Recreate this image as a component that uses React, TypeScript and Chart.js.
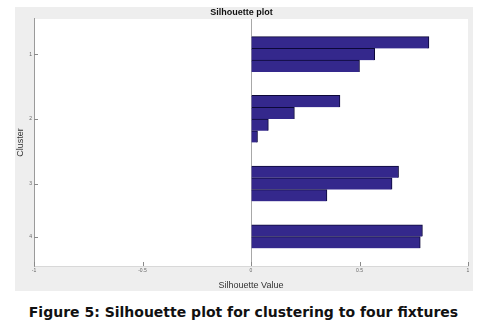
import React, { useEffect, useRef } from "react";
import { Chart, registerables } from "chart.js";

Chart.register(...registerables);

// ---- data ----
const clusterLabels = ["1", "2", "3", "4"];
const cluster1 = [0.82, 0.57, 0.5];
const cluster2 = [0.41, 0.2, 0.08, 0.03];
const cluster3 = [0.68, 0.65, 0.35];
const cluster4 = [0.79, 0.78];
const clusters = [cluster1, cluster2, cluster3, cluster4];
const xTickValues = [-1, -0.5, 0, 0.5, 1];
const xTickLabels = ["-1", "-0.5", "0", "0.5", "1"];
const GAP = 2; // empty slots between clusters (as in MATLAB silhouette)

// build bar slots
const points: { x: number; y: number }[] = [];
const clusterCenters: number[] = [];
{
  let slot = 0;
  clusters.forEach((vals) => {
    const start = slot;
    vals.forEach((v) => {
      points.push({ x: v, y: slot });
      slot += 1;
    });
    clusterCenters.push((start + slot - 1) / 2);
    slot += GAP;
  });
}
const lastSlot = points[points.length - 1].y;

const plotBg = {
  id: "plotBg",
  beforeDraw(chart: any) {
    const { ctx, chartArea } = chart;
    ctx.save();
    ctx.fillStyle = "#ffffff";
    ctx.fillRect(chartArea.left, chartArea.top, chartArea.right - chartArea.left, chartArea.bottom - chartArea.top);
    ctx.restore();
  },
};

const innerTicks = {
  id: "innerTicks",
  afterDraw(chart: any) {
    const { ctx, chartArea } = chart;
    const xs = chart.scales.x;
    const ys = chart.scales.y;
    ctx.save();
    ctx.strokeStyle = "#8a8a8a";
    ctx.lineWidth = 1;
    ctx.beginPath();
    xTickValues.forEach((v) => {
      const px = Math.round(xs.getPixelForValue(v)) + 0.5;
      ctx.moveTo(px, chartArea.bottom);
      ctx.lineTo(px, chartArea.bottom - 4);
    });
    clusterCenters.forEach((c) => {
      const py = Math.round(ys.getPixelForValue(c)) + 0.5;
      ctx.moveTo(chartArea.left, py);
      ctx.lineTo(chartArea.left + 4, py);
    });
    ctx.stroke();
    ctx.restore();
  },
};

function SilhouetteChart() {
  const ref = useRef<HTMLCanvasElement | null>(null);
  useEffect(() => {
    if (!ref.current) return;
    const chart = new Chart(ref.current, {
      type: "bar",
      data: {
        datasets: [
          {
            data: points as any,
            backgroundColor: "#34288c",
            borderColor: "#0c0838",
            borderWidth: { top: 1, right: 1, bottom: 0, left: 0 } as any,
            borderSkipped: false as any,
            barPercentage: 1,
            categoryPercentage: 1,
          },
        ],
      },
      options: {
        indexAxis: "y",
        animation: false,
        responsive: false,
        maintainAspectRatio: false,
        layout: { padding: { left: 0, right: 5, top: 0, bottom: 0 } },
        plugins: {
          legend: { display: false },
          tooltip: { enabled: false },
          title: {
            display: true,
            text: "Silhouette plot",
            color: "#111",
            font: { family: "Liberation Sans, Arial", size: 9, weight: "bold" },
            padding: { top: 0.5, bottom: 0.7 },
          },
        },
        scales: {
          x: {
            type: "linear",
            min: -1,
            max: 1,
            afterBuildTicks: (scale: any) => {
              scale.ticks = xTickValues.map((v) => ({ value: v }));
            },
            afterFit: (scale: any) => {
              scale.height = 25;
            },
            ticks: {
              font: { family: "Liberation Sans, Arial", size: 5 },
              color: "#666",
              padding: 2,
              maxRotation: 0,
              callback: (v: any) => xTickLabels[xTickValues.indexOf(Number(v))] ?? "",
            },
            grid: {
              drawTicks: false,
              color: (ctx: any) => (ctx.tick && ctx.tick.value === 0 ? "#a8a8a8" : "rgba(0,0,0,0)"),
            },
            border: { display: true, color: "#d8d8d8" },
            title: {
              display: true,
              text: "Silhouette Value",
              color: "#333",
              font: { family: "Liberation Sans, Arial", size: 9 },
              padding: { top: 0, bottom: 0 },
            },
          },
          y: {
            type: "linear",
            reverse: true,
            offset: false,
            grace: 0,
            bounds: "data",
            min: -2,
            max: lastSlot + 2,
            afterBuildTicks: (scale: any) => {
              scale.ticks = clusterCenters.map((v) => ({ value: v }));
            },
            afterFit: (scale: any) => {
              scale.width = 19;
            },
            ticks: {
              font: { family: "Liberation Sans, Arial", size: 5 },
              color: "#666",
              padding: 2,
              callback: (v: any) => clusterLabels[clusterCenters.indexOf(Number(v))] ?? "",
            },
            grid: { display: false, drawTicks: false },
            border: { display: true, color: "#9a9a9a" },
            title: {
              display: true,
              text: "Cluster",
              color: "#333",
              font: { family: "Liberation Sans, Arial", size: 9 },
              padding: { top: 0, bottom: 0 },
            },
          },
        },
      },
      plugins: [plotBg, innerTicks],
    });
    return () => chart.destroy();
  }, []);
  return (
    <div style={{ position: "absolute", left: 15, top: 7, width: 458, height: 284, background: "#eeeeee" }}>
      <canvas ref={ref} width={458} height={284} style={{ display: "block", width: 458, height: 284 }} />
    </div>
  );
}

export default function App() {
  return (
    <div style={{ position: "absolute", left: 0, top: 0, width: 487, height: 324, background: "#ffffff", overflow: "hidden" }}>
      <SilhouetteChart />
      <div
        style={{
          position: "absolute",
          left: 0,
          top: 304,
          width: 487,
          textAlign: "center",
          fontFamily: "'DejaVu Sans', Verdana, sans-serif",
          fontWeight: "bold",
          fontSize: 14,
          lineHeight: "17px",
          color: "#111",
          whiteSpace: "nowrap",
        }}
      >
        Figure 5: Silhouette plot for clustering to four fixtures
      </div>
    </div>
  );
}
